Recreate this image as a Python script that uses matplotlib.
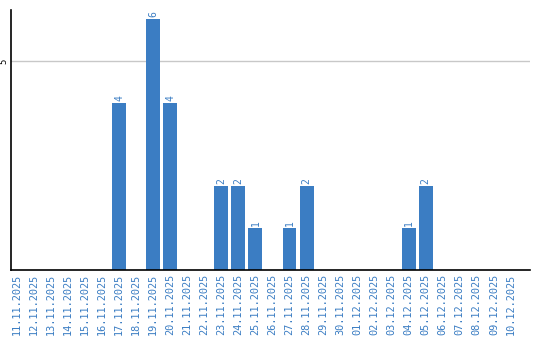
import matplotlib
matplotlib.use("Agg")
import matplotlib.pyplot as plt

dates = ["11.11.2025", "12.11.2025", "13.11.2025", "14.11.2025", "15.11.2025",
         "16.11.2025", "17.11.2025", "18.11.2025", "19.11.2025", "20.11.2025",
         "21.11.2025", "22.11.2025", "23.11.2025", "24.11.2025", "25.11.2025",
         "26.11.2025", "27.11.2025", "28.11.2025", "29.11.2025", "30.11.2025",
         "01.12.2025", "02.12.2025", "03.12.2025", "04.12.2025", "05.12.2025",
         "06.12.2025", "07.12.2025", "08.12.2025", "09.12.2025", "10.12.2025"]
values = [0, 0, 0, 0, 0, 0, 4, 0, 6, 4,
          0, 0, 2, 2, 1, 0, 1, 2, 0, 0,
          0, 0, 0, 1, 2, 0, 0, 0, 0, 0]
yticks = [5]

blue = "#3b7dc3"
W, H = 540, 340
fig = plt.figure(figsize=(W / 100, H / 100), dpi=100)
ax = fig.add_axes([11 / W, (H - 270) / H, (530 - 11) / W, (270 - 10) / H])

x = list(range(len(dates)))
ax.bar(x, values, width=0.82, color=blue, zorder=2)
for xi, v in zip(x, values):
    if v > 0:
        ax.text(xi, v + 0.05, str(v), rotation=90, ha="center", va="bottom",
                color=blue, fontsize=7, family="DejaVu Sans Mono")

ax.set_xlim(-0.35, 30.12)
ax.set_ylim(0, 6.22)
ax.set_xticks(x)
ax.set_xticklabels(dates, rotation=90, color=blue, fontsize=7.4,
                   family="DejaVu Sans Mono")
ax.set_yticks(yticks)
ax.set_yticklabels([str(t) for t in yticks], rotation=90, fontsize=6.5,
                   va="center", family="DejaVu Sans Mono")
ax.tick_params(axis="both", length=0, pad=3)
ax.tick_params(axis="y", pad=2)
ax.grid(axis="y", color="#c8c8c8", linewidth=1, zorder=1)
for s in ["top", "right"]:
    ax.spines[s].set_visible(False)
ax.spines["left"].set_color("black")
ax.spines["bottom"].set_color("black")
ax.spines["left"].set_linewidth(1.2)
ax.spines["bottom"].set_linewidth(1.2)

fig.savefig("out.png", dpi=100)
